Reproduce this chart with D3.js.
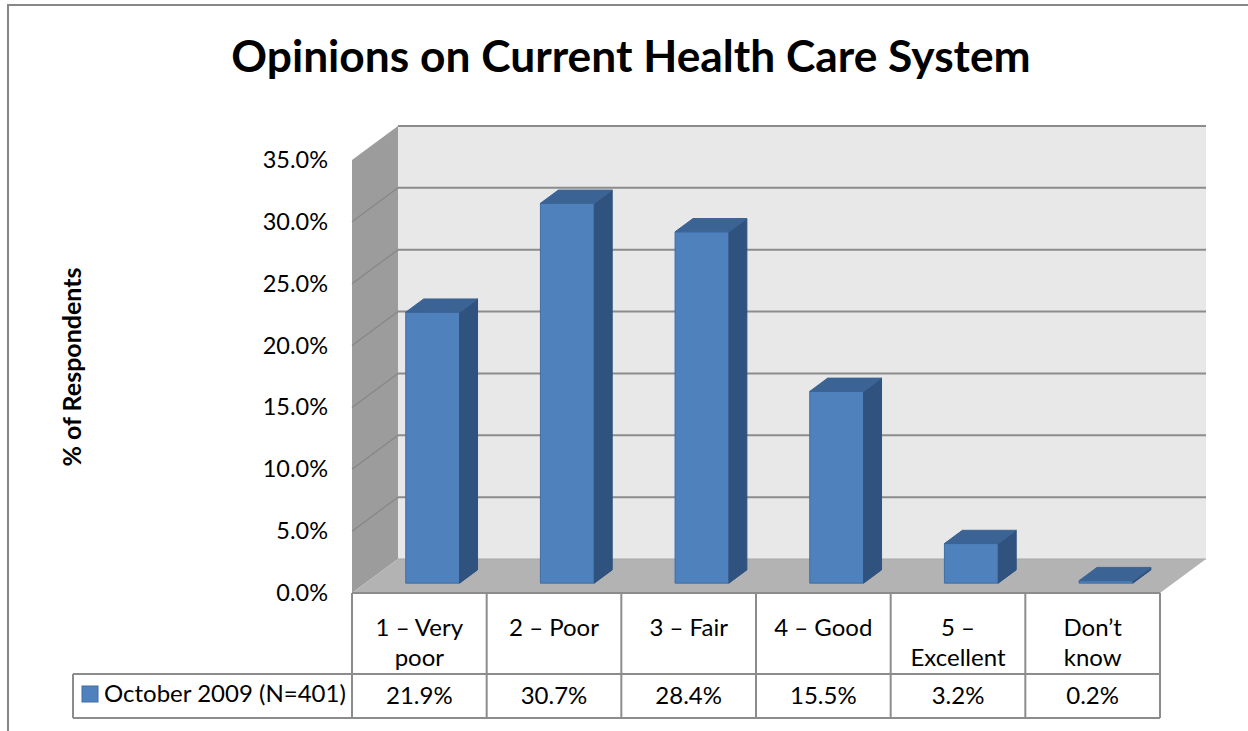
<!DOCTYPE html>
<html>
<head>
<meta charset="utf-8">
<script src="https://cdn.jsdelivr.net/npm/d3@7"></script>
<style>
  html, body { margin: 0; padding: 0; background: #fff; }
  svg { display: block; }
  text { font-family: Lato, "Open Sans", sans-serif; fill: #000; }
</style>
</head>
<body>
<svg id="chart" width="1248" height="731"></svg>
<script>
// ---- data ----
const categories = ["1 – Very poor", "2 – Poor", "3 – Fair", "4 – Good", "5 – Excellent", "Don’t know"];
const values = [0.219, 0.307, 0.284, 0.155, 0.032, 0.002];
const valueLabels = ["21.9%", "30.7%", "28.4%", "15.5%", "3.2%", "0.2%"];
const seriesName = "October 2009 (N=401)";
const yTicks = [0, 0.05, 0.10, 0.15, 0.20, 0.25, 0.30, 0.35];
const title = "Opinions on Current Health Care System";
const yTitle = "% of Respondents";

// ---- layout ----
const W = 1248, H = 731;
const left = 352, right = 1160, floorY = 593, plotH = 433;
const DX = 46, DY = 34;           // depth offset of back wall
const zFront = 0.29, zBack = 0.68; // bar depth range
const row1Bottom = 674, row2Bottom = 718, legendLeft = 73;

const svg = d3.select("#chart");
svg.append("rect").attr("width", W).attr("height", H).attr("fill", "#fff");
// outer frame
svg.append("rect").attr("x", 8).attr("y", 5).attr("width", W + 20).attr("height", H + 20)
  .attr("fill", "none").attr("stroke", "#878787").attr("stroke-width", 2);

const xCol = d3.scaleBand().domain(categories).range([left, right]).padding(0);
const xBar = d3.scaleBand().domain(categories).range([left, right]).paddingInner(0.6).paddingOuter(0.3);
const y = d3.scaleLinear().domain([0, 0.35]).range([0, plotH]);

// projection: x at front, value, depth z (0 front .. 1 back)
const P = (x, v, z) => [x + z * DX, floorY - y(v) - z * DY];
const poly = pts => "M" + pts.map(p => p.join(",")).join("L") + "Z";

const vMax = 0.35;
// back wall
svg.append("path")
  .attr("d", poly([P(left, 0, 1), P(right, 0, 1), P(right, vMax, 1), P(left, vMax, 1)]))
  .attr("fill", "#e8e8e8");
// side wall
svg.append("path")
  .attr("d", poly([P(left, 0, 0), P(left, 0, 1), P(left, vMax, 1), P(left, vMax, 0)]))
  .attr("fill", "#9c9c9c");
// floor
svg.append("path")
  .attr("d", poly([P(left, 0, 0), P(right, 0, 0), P(right, 0, 1), P(left, 0, 1)]))
  .attr("fill", "#b3b3b3");

// gridlines on back wall
svg.append("g").selectAll("line").data(yTicks.filter(t => t > 0)).join("line")
  .attr("x1", d => P(left, d, 1)[0]).attr("y1", d => P(left, d, 1)[1])
  .attr("x2", d => P(right, d, 1)[0]).attr("y2", d => P(right, d, 1)[1])
  .attr("stroke", "#8c8c8c").attr("stroke-width", 2);
// back-wall bottom edge
svg.append("line")
  .attr("x1", P(left, 0, 1)[0]).attr("y1", P(left, 0, 1)[1])
  .attr("x2", P(right, 0, 1)[0]).attr("y2", P(right, 0, 1)[1])
  .attr("stroke", "#a8a8a8").attr("stroke-width", 1);
// gridlines on side wall
svg.append("g").selectAll("line").data(yTicks.filter(t => t > 0 && t < vMax)).join("line")
  .attr("x1", d => P(left, d, 0)[0]).attr("y1", d => P(left, d, 0)[1])
  .attr("x2", d => P(left, d, 1)[0]).attr("y2", d => P(left, d, 1)[1])
  .attr("stroke", "#868686").attr("stroke-width", 1.2);

// bars
const bars = svg.append("g").selectAll("g").data(categories).join("g");
bars.each(function (c, i) {
  const g = d3.select(this);
  const x0 = xBar(c), x1 = x0 + xBar.bandwidth(), v = values[i];
  // front
  g.append("path").attr("d", poly([P(x0, 0, zFront), P(x1, 0, zFront), P(x1, v, zFront), P(x0, v, zFront)]))
    .attr("fill", "#4f81bd").attr("stroke", "#3f6ea6").attr("stroke-width", 1);
  // side
  g.append("path").attr("d", poly([P(x1, 0, zFront), P(x1, 0, zBack), P(x1, v, zBack), P(x1, v, zFront)]))
    .attr("fill", "#30527f").attr("stroke", "#30527f").attr("stroke-width", 1);
  // top
  g.append("path").attr("d", poly([P(x0, v, zFront), P(x1, v, zFront), P(x1, v, zBack), P(x0, v, zBack)]))
    .attr("fill", "#3b6495").attr("stroke", "#3b6495").attr("stroke-width", 1);
});

const fs = 24;
// y tick labels
svg.append("g").selectAll("text").data(yTicks).join("text")
  .attr("x", 328).attr("y", d => P(left, d, 0)[1] + 8)
  .attr("text-anchor", "end").attr("font-size", 23.5)
  .text(d => (d * 100).toFixed(1) + "%");

// y title
svg.append("text")
  .attr("transform", "translate(81,367) rotate(-90)")
  .attr("text-anchor", "middle").attr("font-size", 25).attr("font-weight", "bold")
  .text(yTitle);

// title
svg.append("text").attr("x", 631).attr("y", 72).attr("text-anchor", "middle")
  .attr("font-size", 44.3).attr("font-weight", "bold").text(title);

// data table
const tg = svg.append("g");
const lineStyle = sel => sel.attr("stroke", "#8c8c8c").attr("stroke-width", 2).attr("fill", "none");
// horizontal lines
tg.append("line").attr("x1", left).attr("x2", right).attr("y1", floorY).attr("y2", floorY).call(lineStyle);
tg.append("line").attr("x1", legendLeft).attr("x2", right).attr("y1", row1Bottom).attr("y2", row1Bottom).call(lineStyle);
tg.append("line").attr("x1", legendLeft).attr("x2", right).attr("y1", row2Bottom).attr("y2", row2Bottom).call(lineStyle);
tg.append("line").attr("x1", legendLeft).attr("x2", legendLeft).attr("y1", row1Bottom).attr("y2", row2Bottom).call(lineStyle);
// vertical lines
const colEdges = categories.map(c => xCol(c)).concat([right]);
tg.selectAll("line.v").data(colEdges).join("line").attr("class", "v")
  .attr("x1", d => d).attr("x2", d => d).attr("y1", floorY).attr("y2", row2Bottom).call(lineStyle);

// category labels (wrapped)
categories.forEach((c, i) => {
  const cx = xCol(c) + xCol.bandwidth() / 2;
  const t = tg.append("text").attr("x", cx).attr("y", 636).attr("text-anchor", "middle").attr("font-size", fs);
  const words = c.split(" ");
  let lines = [], cur = [];
  const probe = tg.append("text").attr("font-size", fs);
  words.forEach(w => {
    const test = cur.concat([w]).join(" ");
    probe.text(test);
    if (probe.node().getComputedTextLength() > 110 && cur.length) {
      lines.push(cur.join(" ")); cur = [w];
    } else cur.push(w);
  });
  lines.push(cur.join(" "));
  probe.remove();
  lines.forEach((l, k) => t.append("tspan").attr("x", cx).attr("dy", k ? 30 : 0).text(l));
});

// value labels
tg.selectAll("text.val").data(valueLabels).join("text").attr("class", "val")
  .attr("x", (d, i) => xCol(categories[i]) + xCol.bandwidth() / 2).attr("y", 704)
  .attr("text-anchor", "middle").attr("font-size", fs).text(d => d);

// legend
tg.append("rect").attr("x", 82).attr("y", 686).attr("width", 16).attr("height", 16)
  .attr("fill", "#4f81bd").attr("stroke", "#3f6ea6").attr("stroke-width", 1);
tg.append("text").attr("x", 104).attr("y", 702).attr("font-size", fs).text(seriesName);
</script>
</body>
</html>
